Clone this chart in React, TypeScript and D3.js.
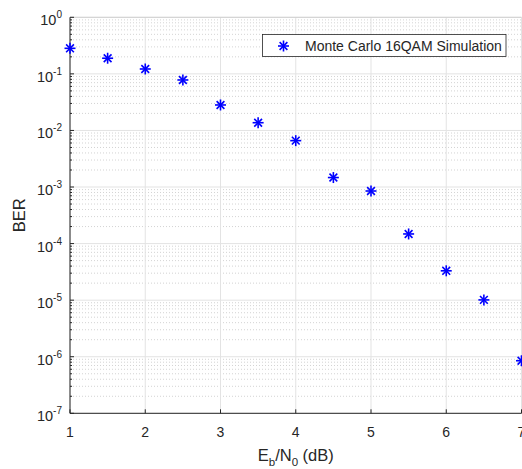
import React from "react";
import * as d3 from "d3";

// Eb/N0 sweep (dB) and simulated bit error rate
const ebn0: number[] = [1, 1.5, 2, 2.5, 3, 3.5, 4, 4.5, 5, 5.5, 6, 6.5, 7];
const ber: number[] = [0.283, 0.189, 0.122, 0.078, 0.0282, 0.0137, 0.0066, 0.00147, 0.00085, 1.48e-4, 3.3e-5, 1.01e-5, 8.5e-7];
const xTicks: number[] = [1, 2, 3, 4, 5, 6, 7];
const yExponents: number[] = [0, -1, -2, -3, -4, -5, -6, -7];
const legendLabel = "Monte Carlo 16QAM Simulation";

const W = 522;
const H = 469;
const M = { left: 70, right: 0.5, top: 17.3, bottom: 413.3 };
const FONT = "'Liberation Sans', Arial, Helvetica, sans-serif";
const TXT = "#262626";

function Asterisk({ x, y, r }: { x: number; y: number; r: number }) {
  const d = r * Math.SQRT1_2;
  return (
    <g stroke="#0000ff" strokeWidth={1.6} strokeLinecap="butt">
      <line x1={x - r} y1={y} x2={x + r} y2={y} />
      <line x1={x} y1={y - r} x2={x} y2={y + r} />
      <line x1={x - d} y1={y - d} x2={x + d} y2={y + d} />
      <line x1={x - d} y1={y + d} x2={x + d} y2={y - d} />
    </g>
  );
}

export default function App() {
  const x = d3.scaleLinear().domain([1, 7]).range([M.left, W - M.right]);
  const y = d3.scaleLog().domain([1e-7, 1]).range([M.bottom, M.top]);

  const minorVals: number[] = [];
  for (let e = -7; e < 0; e++) {
    for (let k = 2; k <= 9; k++) minorVals.push(k * Math.pow(10, e));
  }

  const left = M.left;
  const right = W - M.right;

  return (
    <div style={{ position: "absolute", left: 0, top: 0 }}>
      <svg width={W} height={H} style={{ display: "block", background: "#fff" }} fontFamily={FONT}>
        {/* minor grid */}
        {minorVals.map((v, i) => (
          <line key={"mg" + i} x1={left} x2={right} y1={y(v)} y2={y(v)} stroke="#c8c8c8" strokeWidth={0.8} strokeDasharray="1 2" />
        ))}
        {/* major grid */}
        {yExponents.map((e) => (
          <line key={"yg" + e} x1={left} x2={right} y1={y(Math.pow(10, e))} y2={y(Math.pow(10, e))} stroke="#e3e3e3" strokeWidth={1} />
        ))}
        {xTicks.map((t) => (
          <line key={"xg" + t} x1={x(t)} x2={x(t)} y1={M.top} y2={M.bottom} stroke="#e3e3e3" strokeWidth={1} />
        ))}
        {/* box */}
        <line x1={left} x2={right} y1={M.top} y2={M.top} stroke="#d0d0d0" strokeWidth={1} />
        <line x1={left} x2={right} y1={M.bottom} y2={M.bottom} stroke={TXT} strokeWidth={1} />
        <line x1={left} x2={left} y1={M.top} y2={M.bottom} stroke={TXT} strokeWidth={1} />
        {/* ticks */}
        {xTicks.map((t) => (
          <line key={"xt" + t} x1={x(t)} x2={x(t)} y1={M.bottom} y2={M.bottom - 4} stroke={TXT} strokeWidth={1} />
        ))}
        {yExponents.map((e) => (
          <line key={"yt" + e} x1={left} x2={left + 4} y1={y(Math.pow(10, e))} y2={y(Math.pow(10, e))} stroke={TXT} strokeWidth={1} />
        ))}
        {minorVals.map((v, i) => (
          <line key={"ymt" + i} x1={left} x2={left + 2} y1={y(v)} y2={y(v)} stroke={TXT} strokeWidth={1} />
        ))}
        {/* tick labels */}
        {xTicks.map((t) => (
          <text key={"xl" + t} x={x(t)} y={437} textAnchor="middle" fontSize={14} fill={TXT}>
            {t}
          </text>
        ))}
        {yExponents.map((e) => (
          <text key={"yl" + e} x={left - 8} y={y(Math.pow(10, e)) + 8} textAnchor="end" fontSize={14.5} fill={TXT}>
            10
            <tspan fontSize={10} dy={-7}>{e}</tspan>
          </text>
        ))}
        {/* axis labels */}
        <text x={(left + right) / 2} y={460.5} textAnchor="middle" fontSize={16.5} fill={TXT}>
          E<tspan fontSize={11.5} dy={5}>b</tspan>
          <tspan dy={-5}>/N</tspan>
          <tspan fontSize={11.5} dy={5}>0</tspan>
          <tspan dy={-5}> (dB)</tspan>
        </text>
        <text transform={`translate(25,${(M.top + M.bottom) / 2}) rotate(-90)`} textAnchor="middle" fontSize={16.5} fill={TXT}>
          BER
        </text>
        {/* data */}
        {ebn0.map((v, i) => (
          <Asterisk key={"p" + i} x={x(v)} y={y(ber[i])} r={5.5} />
        ))}
        {/* legend */}
        <rect x={262.5} y={34.5} width={243.5} height={22} fill="#fff" stroke="#262626" strokeWidth={0.8} />
        <Asterisk x={283.5} y={46} r={5.5} />
        <text x={305} y={51} fontSize={14} fill={TXT}>
          {legendLabel}
        </text>
      </svg>
    </div>
  );
}
